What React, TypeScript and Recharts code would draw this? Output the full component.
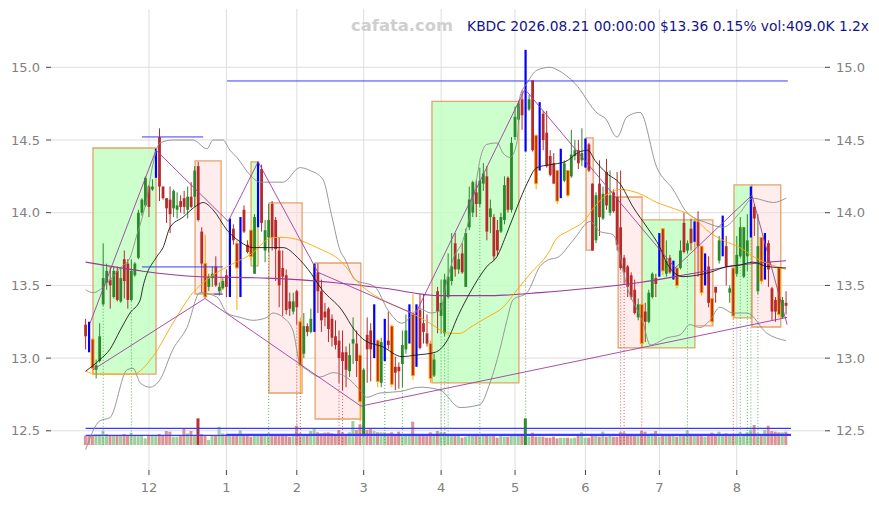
import React from 'react';
import { ComposedChart, Bar, Line, XAxis, YAxis, CartesianGrid, ReferenceArea, ReferenceLine } from 'recharts';

// ---------- daily OHLC (index 0 = 2025-11-04 ... 199 = 2026-08-21) ----------
const opens = [
  13.23, 13.22, 13.13, 12.92, 12.98, 13.37, 13.52, 13.54, 13.42, 13.60,
  13.39, 13.68, 13.65, 13.40, 13.57, 13.69, 14.00, 14.05, 14.18, 14.16,
  14.25, 14.52, 14.18, 14.10, 14.09, 14.03, 14.02, 14.08, 14.10, 14.02,
  14.11, 14.11, 14.32, 13.87, 13.65, 13.49, 13.55, 13.63, 13.46, 13.48,
  13.57, 13.44, 13.89, 13.79, 13.45, 14.02, 13.78, 13.88, 13.58, 13.92,
  14.30, 13.74, 13.83, 14.06, 13.95, 13.74, 13.62, 13.57, 13.39, 13.32,
  13.46, 13.25, 13.03, 13.22, 13.18, 13.19, 13.59, 13.46, 13.32, 13.34,
  13.27, 13.15, 13.12, 13.04, 13.04, 12.91, 13.10, 13.10, 13.02, 12.47,
  13.16, 13.19, 13.02, 13.12, 12.83, 13.00, 13.12, 13.22, 12.94, 12.94,
  12.96, 13.06, 13.12, 13.30, 12.96, 13.33, 13.24, 13.17, 13.10, 12.88,
  13.46, 13.29, 13.17, 13.42, 13.53, 13.79, 13.61, 13.72, 13.49, 13.90,
  14.00, 14.14, 14.06, 14.20, 14.25, 13.97, 13.97, 13.88, 13.87, 13.95,
  14.24, 14.02, 14.52, 14.64, 14.78, 14.78, 14.71, 14.91, 14.53, 14.30,
  14.68, 14.55, 14.39, 14.34, 14.29, 14.11, 14.22, 14.29, 14.25, 14.39,
  14.43, 14.36, 14.32, 14.47, 14.20, 13.81, 14.20, 13.96, 14.28, 14.00,
  14.14, 14.11, 13.90, 13.69, 13.63, 13.57, 13.47, 13.28, 13.37, 13.32,
  13.25, 13.42, 13.55, 13.57, 13.89, 13.58, 13.69, 13.55, 13.62, 13.62,
  13.93, 13.74, 13.89, 13.81, 13.94, 13.77, 13.51, 13.63, 13.41, 13.49,
  13.67, 13.71, 13.77, 13.45, 13.62, 13.58, 13.70, 13.56, 13.70, 13.84,
  14.04, 13.46, 13.83, 13.55, 13.79, 13.48, 13.40, 13.62, 13.28, 13.38,
];
const highs = [
  13.27, 13.25, 13.14, 12.99, 13.24, 13.79, 13.65, 13.63, 13.63, 13.63,
  13.62, 13.74, 13.68, 13.68, 13.66, 14.02, 14.10, 14.25, 14.19, 14.23,
  14.44, 14.58, 14.18, 14.10, 14.18, 14.16, 14.14, 14.12, 14.15, 14.18,
  14.21, 14.32, 14.35, 13.90, 13.85, 13.58, 13.63, 13.70, 13.52, 13.55,
  13.61, 13.96, 13.92, 13.81, 13.97, 14.05, 13.81, 13.88, 13.99, 14.35,
  14.33, 13.95, 14.06, 14.08, 13.97, 13.83, 13.74, 13.61, 13.45, 13.45,
  13.47, 13.28, 13.31, 13.24, 13.34, 13.65, 13.65, 13.54, 13.38, 13.35,
  13.30, 13.26, 13.19, 13.19, 13.08, 13.10, 13.28, 13.19, 13.03, 12.93,
  13.28, 13.24, 13.37, 13.13, 13.14, 13.27, 13.32, 13.23, 13.01, 12.97,
  13.19, 13.30, 13.37, 13.44, 13.37, 13.44, 13.44, 13.30, 13.12, 13.03,
  13.49, 13.54, 13.58, 13.72, 13.86, 13.86, 13.72, 13.79, 13.89, 14.18,
  14.22, 14.22, 14.31, 14.34, 14.32, 14.09, 13.99, 13.95, 14.00, 14.25,
  14.25, 14.52, 14.73, 14.77, 14.84, 15.12, 14.81, 14.91, 14.54, 14.76,
  14.70, 14.70, 14.43, 14.41, 14.29, 14.44, 14.36, 14.29, 14.57, 14.50,
  14.50, 14.58, 14.51, 14.48, 14.20, 14.14, 14.36, 14.18, 14.37, 14.29,
  14.16, 14.28, 14.29, 13.71, 13.64, 13.59, 13.54, 13.41, 13.37, 13.38,
  13.47, 13.59, 13.58, 13.86, 13.89, 13.81, 13.71, 13.67, 13.62, 13.81,
  14.00, 13.81, 13.96, 13.94, 14.01, 13.77, 13.72, 13.70, 13.41, 13.49,
  13.84, 13.98, 13.84, 13.50, 13.62, 13.84, 13.97, 13.90, 13.99, 14.18,
  14.06, 13.99, 13.83, 13.86, 13.81, 13.49, 13.42, 13.62, 13.42, 13.46,
];
const lows = [
  13.06, 13.04, 12.90, 12.86, 12.97, 13.36, 13.47, 13.34, 13.41, 13.39,
  13.38, 13.41, 13.34, 13.39, 13.56, 13.68, 13.98, 14.04, 13.97, 14.15,
  14.24, 14.08, 14.09, 13.93, 13.86, 13.97, 13.96, 14.00, 13.99, 13.96,
  14.03, 14.04, 13.94, 13.45, 13.41, 13.46, 13.49, 13.49, 13.43, 13.47,
  13.42, 13.42, 13.78, 13.33, 13.42, 13.86, 13.72, 13.67, 13.58, 13.90,
  13.87, 13.66, 13.73, 13.74, 13.53, 13.35, 13.29, 13.30, 13.29, 13.30,
  13.23, 12.76, 13.00, 13.15, 13.17, 13.18, 13.31, 13.18, 13.22, 13.11,
  13.08, 13.06, 12.83, 12.78, 12.80, 12.87, 12.96, 12.87, 12.57, 12.46,
  12.83, 12.84, 13.00, 12.80, 12.80, 12.98, 13.06, 12.80, 12.78, 12.79,
  12.80, 13.03, 13.10, 12.85, 12.94, 13.06, 13.10, 13.08, 12.83, 12.87,
  13.17, 13.17, 13.15, 13.41, 13.50, 13.56, 13.58, 13.58, 13.49, 13.88,
  13.97, 13.97, 14.04, 14.15, 13.81, 13.86, 13.67, 13.70, 13.86, 13.92,
  14.00, 14.00, 14.50, 14.62, 14.57, 14.42, 14.70, 14.42, 14.16, 14.29,
  14.43, 14.31, 14.25, 14.20, 14.06, 14.10, 14.21, 14.11, 14.24, 14.36,
  14.30, 14.32, 14.31, 14.28, 13.74, 13.79, 13.84, 13.95, 14.02, 13.98,
  14.00, 13.74, 13.61, 13.51, 13.42, 13.40, 13.30, 13.26, 13.08, 13.11,
  13.24, 13.41, 13.42, 13.56, 13.57, 13.56, 13.58, 13.54, 13.48, 13.61,
  13.72, 13.72, 13.74, 13.80, 13.56, 13.43, 13.50, 13.35, 13.23, 13.38,
  13.65, 13.70, 13.50, 13.38, 13.27, 13.56, 13.69, 13.55, 13.60, 13.83,
  13.84, 13.44, 13.51, 13.54, 13.49, 13.26, 13.25, 13.28, 13.27, 13.30,
];
const closes = [
  13.15, 13.06, 12.93, 12.95, 13.15, 13.55, 13.60, 13.50, 13.60, 13.40,
  13.55, 13.53, 13.40, 13.60, 13.65, 14.00, 14.09, 14.24, 14.04, 14.18,
  14.43, 14.18, 14.10, 14.03, 13.99, 14.15, 14.05, 14.04, 14.04, 14.11,
  14.04, 14.29, 13.95, 13.65, 13.42, 13.56, 13.58, 13.50, 13.49, 13.53,
  13.49, 13.96, 13.81, 13.62, 13.96, 13.87, 13.73, 13.70, 13.97, 14.35,
  13.93, 13.88, 13.95, 13.83, 13.75, 13.50, 13.56, 13.33, 13.34, 13.39,
  13.35, 12.95, 13.22, 13.18, 13.27, 13.64, 13.46, 13.26, 13.28, 13.20,
  13.14, 13.09, 13.00, 12.98, 12.92, 13.02, 13.13, 12.98, 12.70, 12.92,
  13.06, 13.06, 13.36, 12.84, 13.11, 13.26, 13.09, 12.82, 12.90, 12.91,
  13.09, 13.19, 13.36, 12.88, 13.35, 13.07, 13.18, 13.10, 12.86, 12.99,
  13.32, 13.38, 13.54, 13.56, 13.63, 13.61, 13.68, 13.59, 13.86, 14.09,
  14.21, 14.06, 14.22, 14.27, 13.87, 14.03, 13.70, 13.74, 13.97, 14.19,
  14.02, 14.48, 14.66, 14.75, 14.67, 14.86, 14.78, 14.43, 14.20, 14.75,
  14.50, 14.32, 14.26, 14.20, 14.08, 14.43, 14.34, 14.12, 14.40, 14.43,
  14.34, 14.41, 14.50, 14.29, 13.74, 14.12, 13.97, 14.13, 14.05, 14.12,
  14.01, 13.78, 13.62, 13.59, 13.49, 13.42, 13.31, 13.37, 13.10, 13.25,
  13.45, 13.58, 13.51, 13.86, 13.60, 13.67, 13.59, 13.66, 13.50, 13.74,
  13.73, 13.79, 13.79, 13.94, 13.77, 13.45, 13.72, 13.38, 13.25, 13.45,
  13.81, 13.98, 13.63, 13.48, 13.29, 13.71, 13.90, 13.90, 13.81, 14.18,
  13.96, 13.77, 13.53, 13.86, 13.61, 13.32, 13.32, 13.30, 13.40, 13.36,
];
// volume in thousands of shares
const volumes = [
  286, 286, 307, 327, 327, 440, 338, 286, 286, 286,
  307, 338, 286, 378, 286, 286, 286, 205, 286, 286,
  307, 338, 286, 430, 409, 256, 256, 286, 512, 358,
  430, 286, 818, 338, 286, 153, 286, 307, 563, 358,
  327, 286, 338, 286, 460, 286, 286, 256, 286, 286,
  286, 286, 358, 286, 286, 286, 286, 286, 256, 286,
  593, 358, 286, 286, 430, 491, 389, 358, 378, 389,
  358, 307, 460, 389, 286, 389, 737, 460, 634, 600,
  460, 512, 430, 389, 389, 389, 358, 389, 307, 409,
  307, 286, 286, 716, 286, 286, 286, 286, 389, 286,
  430, 389, 389, 327, 307, 286, 327, 225, 256, 327,
  327, 327, 307, 286, 327, 286, 286, 225, 286, 256,
  256, 286, 286, 286, 286, 818, 256, 378, 256, 256,
  256, 225, 225, 256, 205, 225, 225, 225, 205, 225,
  307, 389, 225, 225, 307, 327, 256, 409, 256, 286,
  256, 256, 389, 389, 286, 286, 307, 286, 440, 409,
  307, 358, 430, 256, 307, 327, 286, 286, 256, 286,
  307, 440, 307, 307, 307, 327, 256, 307, 378, 327,
  409, 307, 358, 327, 286, 327, 389, 327, 389, 460,
  614, 358, 327, 460, 593, 430, 409, 389, 389, 409,
];
const blueBars = [1, 20, 41, 44, 49, 65, 82, 85, 92, 94, 125, 129, 135, 142, 163, 167, 173, 176, 181, 189, 193];
const orangeBars = [2, 34, 43, 47, 61, 78, 83, 87, 93, 98, 128, 134, 137, 158, 164, 168, 175, 178, 184, 192, 197];

// ---------- axis ticks ----------
const monthTicks = [18, 40, 60, 79, 101, 122, 142, 163, 185];
const monthLabels = ['12', '1', '2', '3', '4', '5', '6', '7', '8'];
const priceTicks = [12.5, 13.0, 13.5, 14.0, 14.5, 15.0];

// ---------- indicator lines [bar index, price] ----------
type Pt = [number, number];
type Pt3 = [number, number, number];
const maFast: Pt[] = [
  [0, 12.91], [4.1, 12.99], [6.9, 13.06], [9.8, 13.19], [12.6, 13.31], [15.5, 13.40], [16.3, 13.49],
  [20.3, 13.70], [22, 13.76], [24, 13.90], [27.7, 13.97], [31.6, 14.05], [33.4, 14.07], [36.2, 14.02],
  [40.2, 13.88], [43.9, 13.80], [47.6, 13.76], [53.2, 13.76], [56.1, 13.76], [60.3, 13.69], [63.2, 13.61],
  [67.2, 13.47], [72.8, 13.33], [76.5, 13.19], [79.4, 13.12], [84.2, 13.08], [89.9, 13.01], [93.6, 13.02],
  [99.3, 13.04], [102.7, 13.12], [106, 13.30], [109.2, 13.45], [114, 13.63], [116.9, 13.70], [119.7, 13.86],
  [122.6, 14.04], [125.4, 14.20], [128.2, 14.31], [131.9, 14.33], [136.2, 14.35], [140.5, 14.42], [142.7, 14.43],
  [144.7, 14.36], [148.1, 14.27], [151.8, 14.20], [155.5, 14.04], [159.5, 13.90], [163.2, 13.76], [165.2, 13.65],
  [169.7, 13.56], [173.7, 13.57], [177.4, 13.59], [182.2, 13.63], [185.9, 13.64], [189.6, 13.66], [193.6, 13.63],
  [199, 13.62],
];
const maSlow: Pt[] = [
  [0, 12.91], [3.2, 12.89], [13.5, 12.89], [19.1, 13.01], [24.8, 13.24], [30.5, 13.45], [34.5, 13.54],
  [41.9, 13.65], [46.7, 13.71], [53.2, 13.83], [56.1, 13.83], [60.9, 13.81], [65.7, 13.76], [72.8, 13.66],
  [77.4, 13.52], [82.2, 13.43], [87.9, 13.36], [92.7, 13.31], [97.8, 13.24], [103.4, 13.17], [106.4, 13.17],
  [109.2, 13.21], [114, 13.28], [118.6, 13.35], [122.6, 13.47], [126.3, 13.58], [131.9, 13.74],
  [133.4, 13.81], [137.6, 13.88], [141.9, 13.95], [143.9, 14.02], [151.8, 14.16], [157.5, 14.13], [162.3, 14.07],
  [166.9, 14.03], [172.6, 13.97], [176.5, 13.88], [181.1, 13.81], [185.9, 13.76], [189.6, 13.70], [199, 13.61],
];
const maLong: Pt[] = [
  [0, 13.66], [32.5, 13.56], [51.5, 13.55], [70.3, 13.52], [85, 13.48], [100.7, 13.43], [115, 13.43],
  [129.1, 13.45], [143, 13.48], [157.5, 13.52], [172, 13.58], [185.9, 13.64], [199, 13.67],
];
const bandUpper: Pt[] = [
  [0, 13.47], [2.1, 13.45], [5.5, 13.50], [9.8, 13.62], [12.6, 13.69], [14.6, 13.85], [16.0, 13.96],
  [17.4, 14.10], [19.1, 14.33], [21.1, 14.48], [24.8, 14.50], [30.5, 14.50], [34.5, 14.44], [36.2, 14.50],
  [39.0, 14.50], [41.0, 14.43], [43.0, 14.38], [46.7, 14.26], [49.5, 14.21], [56.1, 14.21], [60.9, 14.31],
  [63.8, 14.29], [67.4, 14.23], [70.0, 13.97], [72.3, 13.74], [73.7, 13.68], [76.5, 13.54], [82.2, 13.49],
  [85.9, 13.33], [89.9, 13.24], [95.0, 13.34], [98.0, 13.31], [100.7, 13.33], [102.7, 13.54], [104.4, 13.68],
  [107.2, 13.81], [110.1, 14.09], [111.5, 14.29], [112.0, 14.36], [114.0, 14.47], [116.9, 14.48], [118.6, 14.41],
  [120.6, 14.38], [122.6, 14.49], [123.4, 14.80], [125.4, 14.89], [128.2, 14.98], [131.9, 15.00], [134.2, 14.98],
  [139.0, 14.89], [145.6, 14.68], [147.6, 14.65], [151.0, 14.52], [153.8, 14.66], [157.5, 14.69], [162.3, 14.31],
  [166.9, 14.16], [170.9, 14.00], [176.5, 13.93], [181.1, 13.90], [185.9, 14.00], [189.6, 14.10], [195.4, 14.07],
  [199, 14.10],
];
const bandLower: Pt[] = [
  [0, 12.37], [4.1, 12.57], [6.9, 12.59], [11.8, 12.92], [13.5, 12.93], [15.5, 12.83], [18.3, 12.80],
  [21.1, 12.85], [24.8, 13.06], [28.8, 13.21], [32.5, 13.45], [37.3, 13.42], [40.2, 13.31], [43.9, 13.28],
  [47.6, 13.26], [51.5, 13.28], [53.2, 13.31], [56.1, 13.28], [58.9, 13.19], [60.9, 12.96], [62.9, 12.92],
  [66.6, 12.87], [70.3, 12.90], [75.1, 12.85], [77.9, 12.78], [79.9, 12.73], [83.6, 12.76], [89.3, 12.77],
  [95.0, 12.80], [100.7, 12.78], [106.4, 12.66], [112.0, 12.68], [114.9, 12.83], [117.7, 13.06], [119.7, 13.26],
  [121.4, 13.40], [125.4, 13.45], [129.1, 13.63], [131.9, 13.68], [133.9, 13.69], [138.5, 13.81], [143.4, 13.94],
  [146.1, 13.87], [149.8, 13.85], [154.1, 13.47], [158.4, 13.24], [160.4, 13.09], [165.2, 13.14], [168.9, 13.16],
  [171.7, 13.23], [174.5, 13.21], [177.4, 13.26], [180.2, 13.35], [183.9, 13.31], [187.9, 13.31], [193.6, 13.17],
  [199, 13.12],
];
const swingLine: Pt[] = [
  [1.25, 13.24], [20.0, 14.43], [40.5, 13.94], [49.0, 14.35], [66.0, 13.59], [93.6, 13.30],
  [124.8, 14.85], [167.5, 13.62], [189.3, 14.12], [199.3, 13.23],
];
const lowTrend: Pt[] = [[2.1, 12.92], [33.9, 13.41], [78.2, 12.67], [199.3, 13.28]];

// ---------- boxes [fromIndex, toIndex, top, bottom, kind] ----------
const boxes: [number, number, number, number, 'up' | 'down'][] = [
  [2.1, 20.0, 14.445, 12.89, 'up'],
  [31.1, 38.5, 14.356, 13.441, 'down'],
  [47.0, 49.0, 14.349, 13.634, 'up'],
  [52.1, 61.5, 14.067, 12.76, 'down'],
  [65.2, 78.2, 13.654, 12.581, 'down'],
  [98.4, 123.1, 14.765, 12.829, 'up'],
  [142.2, 144.2, 14.514, 13.743, 'down'],
  [151.3, 158.1, 14.108, 13.07, 'down'],
  [158.1, 173.1, 13.95, 13.07, 'up'],
  [173.1, 178.2, 13.95, 13.221, 'down'],
  [184.2, 189.3, 14.191, 13.276, 'up'],
  [189.3, 197.5, 14.191, 13.214, 'down'],
];
// horizontal price levels [from, to, price]
const priceLevels: Pt3[] = [
  [40.2, 199.5, 14.906],
  [16.0, 33.4, 14.521],
  [16.0, 39.0, 13.627],
  [36.5, 39.0, 13.44],
];
// volume levels [from, to, volume K]
const volLevels: Pt3[] = [
  [0, 200.4, 513],
  [0, 200.4, 298],
  [40, 200.4, 328],
];
const greenSignals = [5, 13, 52, 85, 90, 101, 102, 103, 112, 125, 171, 186, 188, 189, 191];
const redSignals = [60, 61, 72, 73, 78, 152, 153, 158, 184];

const X_DOMAIN: [number, number] = [-9.83, 210.06];
const P_DOMAIN: [number, number] = [12.2304, 15.401];
const V_DOMAIN: [number, number] = [-767.5, 13385];
const FONT = 'DejaVu Sans';

const pts = (a: Pt[]) => a.map(([i, v]) => ({ i, v }));

function CandleShape(props: any) {
  const { x, y, width, height, payload } = props;
  if (!payload || !Number.isFinite(x) || !Number.isFinite(y)) return null;
  const top = Math.min(y, y + height);
  const bot = Math.max(y, y + height);
  const { o, h, l, c, m } = payload;
  const k = h > l ? (bot - top) / (h - l) : 0;
  const py = (v: number) => top + (h - v) * k;
  const cx = x + width / 2;
  if (m === 'b') {
    return <rect x={cx - 1.1} y={top} width={2.2} height={Math.max(bot - top, 1)} fill="#0000ff" />;
  }
  const up = c >= o;
  const col = up ? '#2a8a2a' : '#b82a2a';
  const bt = py(Math.max(o, c));
  const bb = py(Math.min(o, c));
  const bw = 2.8;
  const isO = m === 'o';
  return (
    <g>
      <line x1={cx} x2={cx} y1={top} y2={bot} stroke={isO ? '#ffa500' : col} strokeWidth={1} />
      <rect x={cx - bw / 2} y={bt} width={bw} height={Math.max(bb - bt, 1)} fill={col}
        stroke={isO ? '#ffa500' : 'none'} strokeWidth={isO ? 0.9 : 0} />
    </g>
  );
}

function VolShape(props: any) {
  const { x, y, width, height, payload } = props;
  if (!payload || !Number.isFinite(x) || !Number.isFinite(y)) return null;
  const top = Math.min(y, y + height);
  const bot = Math.max(y, y + height);
  const up = payload.c >= payload.o;
  const strong = payload.v >= 800;
  const fill = up ? (strong ? '#2e8b2e' : '#9fcf9f') : (strong ? '#b83030' : '#d99595');
  const cx = x + width / 2;
  return <rect x={cx - 1.5} y={top} width={3} height={bot - top} fill={fill} />;
}

export default function App() {
  const candles = opens.map((o, i) => ({
    i, o, h: highs[i], l: lows[i], c: closes[i], v: volumes[i],
    m: blueBars.includes(i) ? 'b' : orangeBars.includes(i) ? 'o' : '',
  }));
  const tickStyle = { fill: '#808080', fontSize: 13, fontFamily: FONT };
  return (
    <div style={{ position: 'absolute', left: 0, top: 0, width: 879, height: 505, background: '#fff' }}>
      <ComposedChart width={879} height={505} data={candles} margin={{ top: 9, right: 0, bottom: 0, left: 0 }}>
        <CartesianGrid xAxisId="x" yAxisId="p" stroke="#dddddd" strokeWidth={1} syncWithTicks />
        <XAxis xAxisId="x" type="number" dataKey="i" domain={X_DOMAIN} allowDataOverflow ticks={monthTicks}
          interval={0} tickFormatter={(v: number) => monthLabels[monthTicks.indexOf(v)] ?? ''}
          height={35} axisLine={false} tickLine={{ stroke: '#444' }} tickSize={5} tickMargin={8} tick={tickStyle} />
        <XAxis xAxisId="xv" type="number" dataKey="i" domain={X_DOMAIN} allowDataOverflow hide />
        <YAxis yAxisId="p" orientation="left" width={51} domain={P_DOMAIN} allowDataOverflow ticks={priceTicks}
          tickFormatter={(v: number) => v.toFixed(1)} axisLine={false} tickLine={{ stroke: '#444' }}
          tickSize={5} tickMargin={6} tick={tickStyle} />
        <YAxis yAxisId="pr" orientation="right" width={54} domain={P_DOMAIN} allowDataOverflow ticks={priceTicks}
          tickFormatter={(v: number) => v.toFixed(1)} axisLine={false} tickLine={{ stroke: '#444' }}
          tickSize={5} tickMargin={6} tick={tickStyle} />
        <YAxis yAxisId="v" hide domain={V_DOMAIN} allowDataOverflow />

        {boxes.map(([a, b, t, btm, kind], k) => (
          <ReferenceArea key={'bx' + k} xAxisId="x" yAxisId="p" x1={a} x2={b} y1={btm} y2={t}
            fill={kind === 'up' ? '#bfffbf' : '#ffdcdc'} fillOpacity={kind === 'up' ? 0.8 : 0.55}
            stroke="#e09a5c" strokeWidth={1.3} strokeOpacity={0.9} ifOverflow="visible" />
        ))}

        <Bar xAxisId="xv" yAxisId="v" dataKey="v" barSize={3} shape={VolShape} isAnimationActive={false} />

        {volLevels.map(([a, b, v], k) => (
          <ReferenceLine key={'vl' + k} xAxisId="xv" yAxisId="v" segment={[{ x: a, y: v }, { x: b, y: v }]}
            stroke="#3838ff" strokeWidth={1.2} ifOverflow="visible" />
        ))}

        {greenSignals.map((i) => (
          <ReferenceLine key={'gs' + i} xAxisId="x" yAxisId="p" segment={[{ x: i, y: lows[i] }, { x: i, y: 12.40 }]}
            stroke="#3c9c3c" strokeWidth={0.8} strokeDasharray="1 2" ifOverflow="visible" />
        ))}
        {redSignals.map((i) => (
          <ReferenceLine key={'rs' + i} xAxisId="x" yAxisId="p" segment={[{ x: i, y: lows[i] }, { x: i, y: 12.40 }]}
            stroke="#c83c3c" strokeWidth={0.8} strokeDasharray="1 2" ifOverflow="visible" />
        ))}

        <Line xAxisId="x" yAxisId="p" data={pts(bandUpper)} dataKey="v" type="monotone" stroke="#8c8c8c"
          strokeWidth={0.9} dot={false} isAnimationActive={false} />
        <Line xAxisId="x" yAxisId="p" data={pts(bandLower)} dataKey="v" type="monotone" stroke="#8c8c8c"
          strokeWidth={0.9} dot={false} isAnimationActive={false} />
        <Line xAxisId="x" yAxisId="p" data={pts(maLong)} dataKey="v" type="monotone" stroke="#9a3a9a"
          strokeWidth={1.1} dot={false} isAnimationActive={false} />
        <Line xAxisId="x" yAxisId="p" data={pts(maSlow)} dataKey="v" type="monotone" stroke="#ffa500"
          strokeWidth={0.9} dot={false} isAnimationActive={false} />
        <Line xAxisId="x" yAxisId="p" data={pts(maFast)} dataKey="v" type="monotone" stroke="#1a1a1a"
          strokeWidth={0.9} dot={false} isAnimationActive={false} />
        <Line xAxisId="x" yAxisId="p" data={pts(lowTrend)} dataKey="v" type="linear" stroke="#a03ca0"
          strokeWidth={0.9} dot={false} isAnimationActive={false} />

        <Bar xAxisId="x" yAxisId="p" dataKey={(d: any) => [d.l, d.h]} barSize={3} shape={CandleShape}
          isAnimationActive={false} />

        <Line xAxisId="x" yAxisId="p" data={pts(swingLine)} dataKey="v" type="linear" stroke="#a03ca0"
          strokeWidth={0.9} dot={false} isAnimationActive={false} />

        {priceLevels.map(([a, b, v], k) => (
          <ReferenceLine key={'pl' + k} xAxisId="x" yAxisId="p" segment={[{ x: a, y: v }, { x: b, y: v }]}
            stroke="#3a3aff" strokeWidth={1} ifOverflow="visible" />
        ))}
      </ComposedChart>
      <svg width={879} height={505} style={{ position: 'absolute', left: 0, top: 0, pointerEvents: 'none' }}>
        <text x={351} y={31} fontFamily={FONT} fontWeight="bold" fontSize={16.4} fill="#cfcfcf">cafata.com</text>
        <text x={869} y={31} textAnchor="end" fontFamily={FONT} fontSize={13.8} fill="#15158a">
          KBDC 2026.08.21 00:00:00 $13.36 0.15% vol:409.0K 1.2x
        </text>
      </svg>
    </div>
  );
}
